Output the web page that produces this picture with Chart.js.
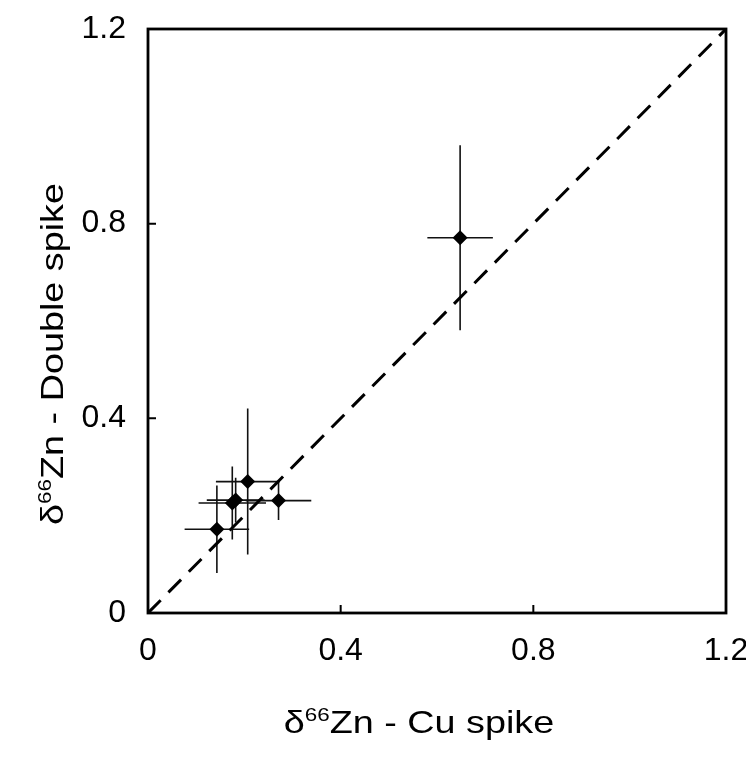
<!DOCTYPE html>
<html>
<head>
<meta charset="utf-8">
<script src="https://cdn.jsdelivr.net/npm/chart.js@4/dist/chart.umd.min.js"></script>
<style>
html,body{margin:0;padding:0;background:#fff;}
#wrap{width:746px;height:757px;position:relative;}
</style>
</head>
<body>
<div id="wrap"><canvas id="c" width="746" height="757"></canvas></div>
<script>
// δ66Zn measured with Cu spike (x) vs double spike (y)
const cuSpike     = [0.143, 0.207, 0.175, 0.182, 0.271, 0.648];
const doubleSpike = [0.172, 0.270, 0.226, 0.232, 0.231, 0.771];
const cuSpikeErr     = [0.067, 0.066, 0.070, 0.060, 0.068, 0.068];
const doubleSpikeErr = [0.090, 0.150, 0.075, 0.046, 0.040, 0.190];
const oneToOne = [0, 1.2];
const tickValues = [0, 0.4, 0.8, 1.2];
const xTitleParts = ['δ', '66', 'Zn - Cu spike'];
const yTitleParts = ['δ', '66', 'Zn - Double spike'];

const FONT = "'Liberation Sans', Arial, Helvetica, sans-serif";
const TITLE_SIZE = 32, SUP_SIZE = 19, STRETCH = 1.18;

const points = cuSpike.map((x, i) => ({x: x, y: doubleSpike[i]}));
const lineData = oneToOne.map(v => ({x: v, y: v}));

const errorBars = {
  id: 'errorBars',
  beforeDatasetsDraw(chart) {
    const {ctx, scales: {x, y}} = chart;
    ctx.save();
    ctx.strokeStyle = '#111';
    ctx.lineWidth = 1.6;
    cuSpike.forEach((cx, i) => {
      const cy = doubleSpike[i];
      const px = x.getPixelForValue(cx), py = y.getPixelForValue(cy);
      ctx.beginPath();
      ctx.moveTo(x.getPixelForValue(cx - cuSpikeErr[i]), py);
      ctx.lineTo(x.getPixelForValue(cx + cuSpikeErr[i]), py);
      ctx.moveTo(px, y.getPixelForValue(cy - doubleSpikeErr[i]));
      ctx.lineTo(px, y.getPixelForValue(cy + doubleSpikeErr[i]));
      ctx.stroke();
    });
    ctx.restore();
  }
};

function drawTitle(ctx, parts) {
  // parts: [greek, superscript, rest]; drawn centred on 0, baseline 0
  const big = TITLE_SIZE + 'px ' + FONT, small = SUP_SIZE + 'px ' + FONT;
  ctx.font = big; const w0 = ctx.measureText(parts[0]).width;
  ctx.font = small; const w1 = ctx.measureText(parts[1]).width;
  ctx.font = big; const w2 = ctx.measureText(parts[2]).width;
  const total = w0 + w1 + w2;
  ctx.scale(STRETCH, 1);
  let xx = -total / 2;
  ctx.textAlign = 'left'; ctx.textBaseline = 'alphabetic';
  ctx.font = big; ctx.fillText(parts[0], xx, 0); xx += w0;
  ctx.font = small; ctx.fillText(parts[1], xx, -12); xx += w1;
  ctx.font = big; ctx.fillText(parts[2], xx, 0);
}

const frame = {
  id: 'frame',
  afterDraw(chart) {
    const {ctx, chartArea: a, scales: {x, y}} = chart;
    ctx.save();
    ctx.strokeStyle = '#000';
    ctx.lineWidth = 2.8;
    ctx.strokeRect(a.left, a.top, a.right - a.left, a.bottom - a.top);
    ctx.lineWidth = 2;
    ctx.beginPath();
    tickValues.forEach(v => {
      const px = x.getPixelForValue(v);
      ctx.moveTo(px, a.bottom); ctx.lineTo(px, a.bottom - 8);
      const py = y.getPixelForValue(v);
      ctx.moveTo(a.left, py); ctx.lineTo(a.left + 8, py);
    });
    ctx.stroke();
    ctx.restore();

    ctx.save();
    ctx.fillStyle = '#000';
    ctx.translate((a.left + a.right) / 2 - 18, a.bottom + 120);
    drawTitle(ctx, xTitleParts);
    ctx.restore();

    ctx.save();
    ctx.fillStyle = '#000';
    ctx.translate(63, (a.top + a.bottom) / 2 + 33);
    ctx.rotate(-Math.PI / 2);
    drawTitle(ctx, yTitleParts);
    ctx.restore();
  }
};

new Chart(document.getElementById('c'), {
  type: 'scatter',
  data: {
    datasets: [
      {
        label: '1:1',
        type: 'line',
        data: lineData,
        borderColor: '#000',
        borderWidth: 3,
        borderDash: [18, 11],
        pointRadius: 0,
        fill: false,
        order: 2
      },
      {
        label: 'samples',
        data: points,
        pointStyle: 'rectRot',
        pointRadius: 7.5,
        pointHoverRadius: 7.5,
        backgroundColor: '#000',
        borderColor: '#000',
        borderWidth: 0,
        order: 1
      }
    ]
  },
  options: {
    responsive: false,
    animation: false,
    events: [],
    layout: {padding: {top: 29, right: 20, left: 0, bottom: 0}},
    plugins: {legend: {display: false}, tooltip: {enabled: false}},
    scales: {
      x: {
        type: 'linear', min: 0, max: 1.2,
        afterBuildTicks: s => { s.ticks = tickValues.map(v => ({value: v})); },
        afterFit: s => { s.height = 144; s.paddingLeft = 0; s.paddingRight = 0; },
        grid: {display: false, drawTicks: false},
        border: {display: false},
        ticks: {
          color: '#000', padding: 19, maxRotation: 0, autoSkip: false,
          font: {family: FONT, size: 32},
          callback: v => String(v)
        },
        title: {display: false}
      },
      y: {
        type: 'linear', min: 0, max: 1.2,
        afterBuildTicks: s => { s.ticks = tickValues.map(v => ({value: v})); },
        afterFit: s => { s.width = 148; s.paddingTop = 0; s.paddingBottom = 0; },
        grid: {display: false, drawTicks: false},
        border: {display: false},
        ticks: {
          color: '#000', padding: 22, autoSkip: false,
          font: {family: FONT, size: 32},
          callback: v => String(v)
        },
        title: {display: false}
      }
    }
  },
  plugins: [errorBars, frame]
});
</script>
</body>
</html>
